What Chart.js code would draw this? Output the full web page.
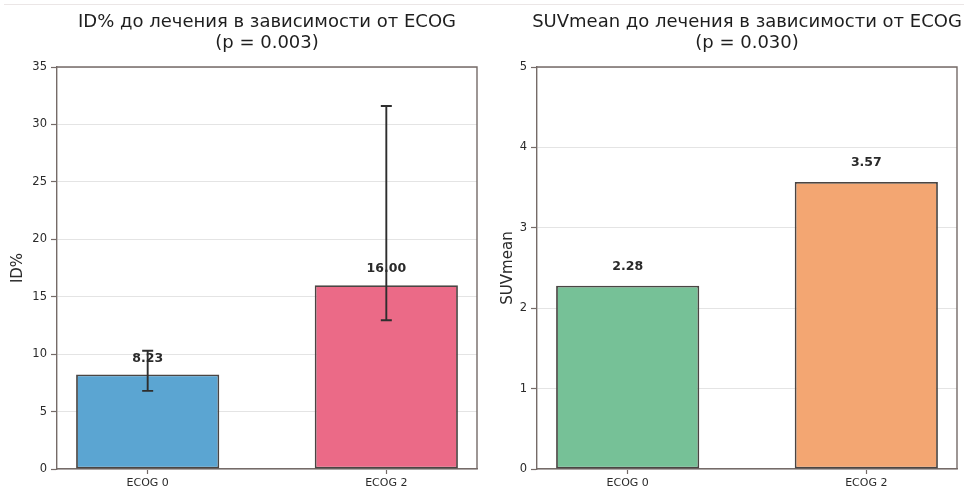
<!DOCTYPE html>
<html>
<head>
<meta charset="utf-8">
<script src="https://cdn.jsdelivr.net/npm/chart.js@4.4.1/dist/chart.umd.min.js"></script>
<style>
html,body{margin:0;padding:0;background:#fff;width:964px;height:494px;overflow:hidden}
#wrap{position:relative;width:964px;height:494px}
.c{position:absolute;top:0}
#topline{position:absolute;left:4px;top:4px;width:960px;height:1px;background:#ebe6e6}
</style>
</head>
<body>
<div id="wrap">
<div id="topline"></div>
<canvas id="c1" class="c" style="left:0" width="482" height="494"></canvas>
<canvas id="c2" class="c" style="left:482px" width="482" height="494"></canvas>
</div>
<script>
// ---- data ----
const categories = ['ECOG 0', 'ECOG 2'];
const idMeans = [8.23, 16.00];
const idErrLow = [6.8, 12.95];
const idErrHigh = [10.3, 31.6];
const idLabels = ['8.23', '16.00'];
const suvMeans = [2.28, 3.57];
const suvLabels = ['2.28', '3.57'];
const idTitle = ['ID% до лечения в зависимости от ECOG', '(p = 0.003)'];
const suvTitle = ['SUVmean до лечения в зависимости от ECOG', '(p = 0.030)'];
const idColors = ['#5ba5d2', '#eb6a87'];
const suvColors = ['#76c197', '#f3a672'];

const FONT = "'DejaVu Sans', sans-serif";
const SPINE = '#756b68';
const TEXT = '#2a2a2a';

const framePlugin = {
  id: 'frame',
  afterDatasetsDraw(chart) {
    const {ctx, chartArea: a} = chart;
    ctx.save();
    ctx.strokeStyle = SPINE;
    ctx.lineWidth = 1.4;
    ctx.beginPath();
    ctx.moveTo(a.left, a.top); ctx.lineTo(a.right, a.top); ctx.lineTo(a.right, a.bottom);
    ctx.stroke();
    ctx.restore();
  }
};

const annotPlugin = {
  id: 'annot',
  afterDatasetsDraw(chart, args, opts) {
    const {ctx, chartArea: a} = chart;
    const xs = chart.scales.x, ys = chart.scales.y;
    ctx.save();
    // title
    ctx.fillStyle = '#1e1e1e';
    ctx.textAlign = 'center';
    ctx.textBaseline = 'middle';
    ctx.font = '18px ' + FONT;
    const cx = (a.left + a.right) / 2;
    ctx.fillText(opts.title[0], cx, 22);
    ctx.fillText(opts.title[1], cx, 43);
    // error bars
    if (opts.low) {
      ctx.strokeStyle = '#2e2e2e';
      ctx.lineWidth = 1.9;
      opts.low.forEach((lo, i) => {
        const x = xs.getPixelForValue(i);
        const y1 = ys.getPixelForValue(lo), y2 = ys.getPixelForValue(opts.high[i]);
        ctx.beginPath();
        ctx.moveTo(x, y1); ctx.lineTo(x, y2);
        ctx.moveTo(x - 5.5, y1); ctx.lineTo(x + 5.5, y1);
        ctx.moveTo(x - 5.5, y2); ctx.lineTo(x + 5.5, y2);
        ctx.stroke();
      });
    }
    // value labels
    ctx.fillStyle = TEXT;
    ctx.font = 'bold 12.5px ' + FONT;
    opts.values.forEach((v, i) => {
      const x = xs.getPixelForValue(i);
      const y = ys.getPixelForValue(v) - opts.labelOffset;
      ctx.fillText(opts.labels[i], x, y);
    });
    ctx.restore();
  }
};

function makeChart(id, c) {
  return new Chart(document.getElementById(id), {
    type: 'bar',
    data: {
      datasets: [{
        data: c.values.map((v, i) => ({x: i, y: v})),
        backgroundColor: c.colors,
        borderColor: '#4a4543',
        borderWidth: 1.8,
        borderSkipped: false,
        barPercentage: 0.6,
        categoryPercentage: 1.0
      }]
    },
    options: {
      responsive: false,
      animation: false,
      devicePixelRatio: 1,
      layout: {padding: {left: 0, right: c.padRight, top: 67, bottom: 0}},
      plugins: {
        legend: {display: false},
        tooltip: {enabled: false},
        title: {display: false},
        annot: {title: c.title, low: c.low, high: c.high, values: c.values, labels: c.labels, labelOffset: c.labelOffset}
      },
      scales: {
        x: {
          type: 'linear', min: -0.38, max: 1.38, offset: false,
          afterBuildTicks: s => { s.ticks = categories.map((_, i) => ({value: i})); },
          ticks: {
            callback: v => categories[v],
            font: {family: FONT, size: 11}, color: TEXT, padding: 3,
            maxRotation: 0, autoSkip: false
          },
          grid: {drawOnChartArea: false, offset: false, tickLength: 5, tickColor: SPINE, tickWidth: 1.2},
          border: {display: true, color: SPINE, width: 1.4},
          afterFit: s => { s.height = 25; }
        },
        y: {
          min: 0, max: c.ymax,
          ticks: {stepSize: c.step, font: {family: FONT, size: 11.5}, color: TEXT, padding: 4},
          grid: {color: '#e4e4e4', lineWidth: 1, tickColor: SPINE, tickLength: 6, tickWidth: 1.2},
          border: {display: true, color: SPINE, width: 1.4},
          title: {display: true, text: c.ylabel, font: {family: FONT, size: 15}, color: TEXT, padding: {top: c.titlePad, bottom: 0}},
          afterFit: s => { s.width = c.left; }
        }
      }
    },
    plugins: [framePlugin, annotPlugin]
  });
}

makeChart('c1', {
  values: idMeans, low: idErrLow, high: idErrHigh, labels: idLabels, colors: idColors,
  title: idTitle, ylabel: 'ID%', ymax: 35, step: 5, left: 57, padRight: 5, titlePad: 9, labelOffset: 16
});
makeChart('c2', {
  values: suvMeans, labels: suvLabels, colors: suvColors,
  title: suvTitle, ylabel: 'SUVmean', ymax: 5, step: 1, left: 55, padRight: 7, titlePad: 17, labelOffset: 19
});
</script>
</body>
</html>
